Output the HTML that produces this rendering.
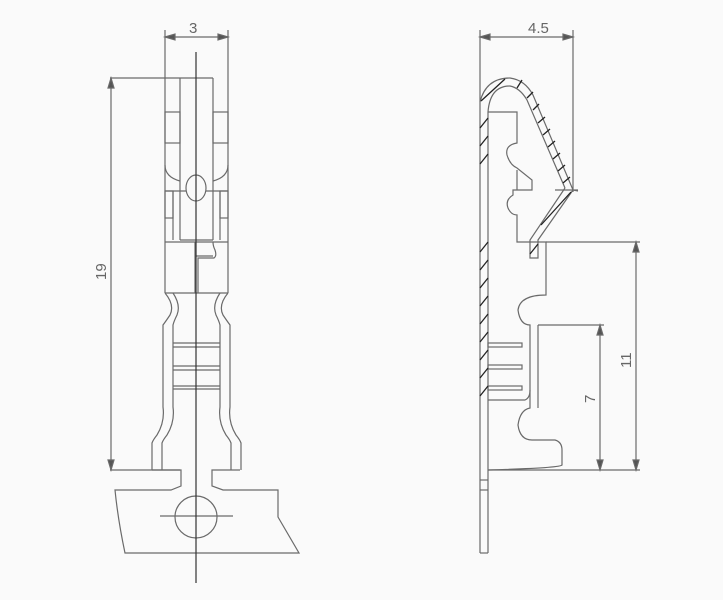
<!DOCTYPE html>
<html><head><meta charset="utf-8"><style>
html,body{margin:0;padding:0;background:#fafafa;}
svg{display:block}
text{font-family:"Liberation Sans",sans-serif;fill:#666;font-size:15px}
</style></head><body>
<svg width="723" height="600" viewBox="0 0 723 600" xmlns="http://www.w3.org/2000/svg">
<rect width="723" height="600" fill="#fafafa"/>
<g fill="none" stroke="#6a6a6a" stroke-width="1.2">
<!-- LEFT VIEW -->
<!-- dim 3 -->
<line x1="165" y1="37" x2="228" y2="37"/>
<path d="M165 37 l10 -3 v6z M228 37 l-10 -3 v6z" fill="#555"/>
<line x1="165" y1="30" x2="165" y2="293"/>
<line x1="228" y1="30" x2="228" y2="293"/>
<!-- dim 19 -->
<line x1="110" y1="78" x2="213" y2="78"/>
<line x1="111" y1="78" x2="111" y2="470"/>
<line x1="110" y1="470" x2="180" y2="470"/>
<path d="M111 78 l-3 10 h6z M111 470 l-3 -10 h6z" fill="#555"/>
<!-- inner -->
<line x1="180" y1="78" x2="180" y2="240"/>
<line x1="213" y1="78" x2="213" y2="240"/>
<rect x="165" y="112" width="15" height="31"/>
<rect x="213" y="112" width="15" height="31"/>
<path d="M165 165 q0 12 15 16 M228 165 q0 12 -15 16"/>
<line x1="165" y1="191" x2="186" y2="191"/>
<line x1="206" y1="191" x2="228" y2="191"/>
<line x1="173" y1="191" x2="173" y2="240"/>
<line x1="220" y1="191" x2="220" y2="240"/>
<rect x="165" y="191" width="8" height="27"/>
<rect x="220" y="191" width="8" height="27"/>
<ellipse cx="196" cy="188" rx="10" ry="13"/>
<line x1="165" y1="242" x2="228" y2="242"/>
<line x1="180" y1="240" x2="213" y2="240"/>
<line x1="195" y1="242" x2="195" y2="293"/>
<path d="M198 293 V258 H214 q3 -2 1 -8 q-2 -4 -2 -8"/>
<line x1="196" y1="256" x2="213" y2="256"/>
<line x1="165" y1="293" x2="228" y2="293"/>
<!-- flare neck -->
<path d="M165 293 q10 12 5 22 q-4 6 -7 10 V407 q2 15 -6 28 q-4 5 -5 8 V470"/>
<path d="M173 293 q8 12 4 22 q-3 6 -4 10 V407 q2 15 -6 28 q-4 5 -5 8 V470"/>
<path d="M228 293 q-10 12 -5 22 q4 6 7 10 V407 q-2 15 6 28 q4 5 5 8 V470"/>
<path d="M220 293 q-8 12 -4 22 q3 6 4 10 V407 q-2 15 6 28 q4 5 5 8 V470"/>
<line x1="173" y1="343" x2="220" y2="343"/><line x1="173" y1="347" x2="220" y2="347"/>
<line x1="173" y1="366" x2="220" y2="366"/><line x1="173" y1="370" x2="220" y2="370"/>
<line x1="173" y1="386" x2="220" y2="386"/><line x1="173" y1="389" x2="220" y2="389"/>
<!-- tab -->
<path d="M152 470 H181 V486 L171 490 H115 Q118 520 125 553 H299 L278 517 V490 H223 L212 486 V470 H240"/>
<circle cx="196" cy="517" r="21"/>
<line x1="160" y1="516" x2="233" y2="516"/>
<line x1="196" y1="52" x2="196" y2="583" stroke="#333"/>
</g>
<text x="189" y="33">3</text>
<text transform="translate(106,280) rotate(-90)">19</text>

<g fill="none" stroke="#6a6a6a" stroke-width="1.2">
<!-- RIGHT VIEW -->
<line x1="480" y1="37" x2="573" y2="37"/>
<path d="M480 37 l10 -3 v6z M573 37 l-10 -3 v6z" fill="#555"/>
<line x1="480" y1="30" x2="480" y2="102"/>
<line x1="573" y1="30" x2="573" y2="192"/>
<!-- plate + hook outer -->
<path d="M480 553 V102 Q486 78 510 78 Q525 80 533 95 L573 190 L578 191"/>
<path d="M488 553 V112 Q490 86 510 86 Q520 88 527 100 L565 188"/>
<line x1="480" y1="553" x2="488" y2="553"/>
<line x1="555" y1="190" x2="578" y2="190"/>
<path d="M573 190 L538 240 V258 H530 V240 L565 188"/>
<!-- body -->
<path d="M488 112 H517 V143 Q505 145 507 155 Q510 165 517 168 L532 180 V190 H513 V195 Q505 200 508 208 Q511 215 517 215 V242 H546 V295 Q520 295 518 310 Q520 325 530 325 V408 Q520 410 518 425 Q520 440 532 440 H555 Q562 442 562 450 V465 Q560 468 488 470"/>
<line x1="538" y1="325" x2="538" y2="408"/>
<line x1="517" y1="170" x2="517" y2="190"/>
<path d="M488 400 H525 Q530 398 530 390"/>
<rect x="488" y="343" width="34" height="4"/>
<rect x="488" y="365" width="34" height="4"/>
<rect x="488" y="386" width="34" height="4"/>
<line x1="480" y1="480" x2="488" y2="480"/>
<line x1="480" y1="490" x2="488" y2="490"/>
<!-- dims 7 / 11 -->
<line x1="546" y1="242" x2="640" y2="242"/>
<line x1="538" y1="325" x2="604" y2="325"/>
<line x1="488" y1="470" x2="640" y2="470"/>
<line x1="600" y1="325" x2="600" y2="470"/>
<line x1="636" y1="242" x2="636" y2="470"/>
<path d="M600 325 l-3 10 h6z M600 470 l-3 -10 h6z M636 242 l-3 10 h6z M636 470 l-3 -10 h6z" fill="#555"/>
</g>
<g stroke="#222" stroke-width="1.3">
<line x1="480" y1="128" x2="488" y2="118"/>
<line x1="480" y1="146" x2="488" y2="136"/>
<line x1="480" y1="164" x2="488" y2="154"/>
<line x1="480" y1="252" x2="488" y2="242"/>
<line x1="480" y1="270" x2="488" y2="260"/>
<line x1="480" y1="288" x2="488" y2="278"/>
<line x1="480" y1="306" x2="488" y2="296"/>
<line x1="480" y1="324" x2="488" y2="314"/>
<line x1="480" y1="342" x2="488" y2="332"/>
<line x1="480" y1="360" x2="488" y2="350"/>
<line x1="480" y1="378" x2="488" y2="368"/>
<line x1="480" y1="396" x2="488" y2="386"/>
<line x1="481" y1="101" x2="505" y2="79"/>
<line x1="517" y1="88" x2="522" y2="80"/>
<line x1="527" y1="98" x2="533" y2="92"/>
<line x1="533" y1="110" x2="539" y2="104"/>
<line x1="538" y1="123" x2="545" y2="117"/>
<line x1="543" y1="135" x2="550" y2="129"/>
<line x1="548" y1="147" x2="555" y2="141"/>
<line x1="553" y1="159" x2="560" y2="153"/>
<line x1="558" y1="171" x2="565" y2="165"/>
<line x1="563" y1="183" x2="570" y2="177"/>
<line x1="541" y1="225" x2="571" y2="192"/>
<line x1="530" y1="254" x2="538" y2="244"/>
</g>
<text x="528" y="33">4.5</text>
<text transform="translate(595,403) rotate(-90)">7</text>
<text transform="translate(631,368) rotate(-90)">11</text>
</svg>
</body></html>
